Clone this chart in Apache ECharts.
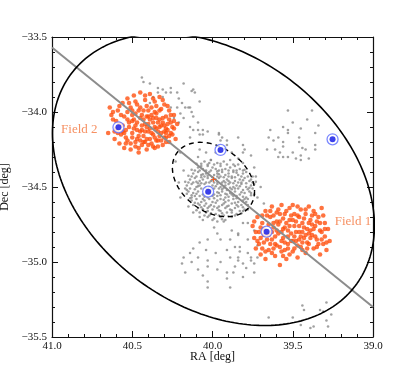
<!DOCTYPE html>
<html>
<head>
<meta charset="utf-8">
<script src="https://cdn.jsdelivr.net/npm/echarts@6/dist/echarts.min.js"></script>
<style>
  html, body { margin: 0; padding: 0; background: #fff; }
  #chart { width: 415px; height: 374px; }
</style>
</head>
<body>
<div id="chart"></div>
<script>
// axis ranges (degrees)
const raRange = [39.0, 41.0];
const decRange = [-35.5, -33.5];

// orange members, field 2
const field2 = [
  [40.64,-33.97],[40.65,-34.14],[40.62,-34.05],[40.61,-34.18],[40.60,-34.11],[40.59,-33.99],[40.58,-34.21],[40.58,-34.08],[40.57,-34.15],[40.56,-33.94],
  [40.55,-34.03],[40.55,-34.24],[40.54,-34.12],[40.53,-33.91],[40.53,-34.19],[40.52,-34.07],[40.51,-33.97],[40.51,-34.25],[40.50,-34.14],[40.50,-34.02],
  [40.49,-33.89],[40.48,-34.20],[40.48,-34.09],[40.47,-33.95],[40.46,-34.16],[40.46,-34.27],[40.45,-34.04],[40.45,-33.87],[40.44,-34.12],[40.44,-34.22],
  [40.43,-33.99],[40.42,-34.08],[40.42,-33.92],[40.41,-34.18],[40.41,-34.25],[40.40,-34.03],[40.40,-34.13],[40.39,-33.88],[40.38,-34.21],[40.38,-33.97],
  [40.37,-34.07],[40.37,-34.15],[40.36,-33.93],[40.36,-34.24],[40.35,-34.01],[40.35,-34.11],[40.34,-34.19],[40.33,-33.90],[40.33,-34.05],[40.32,-34.14],
  [40.32,-33.98],[40.31,-34.22],[40.30,-34.09],[40.30,-33.95],[40.29,-34.17],[40.29,-34.03],[40.28,-34.12],[40.27,-33.99],[40.27,-34.20],[40.26,-34.07],
  [40.25,-34.15],[40.24,-34.02],[40.24,-34.11],[40.23,-34.18],[40.22,-34.08],[40.52,-34.10],[40.49,-34.05],[40.47,-34.12],[40.46,-33.99],[40.43,-34.16],
  [40.43,-34.05],[40.40,-34.08],[40.39,-34.18],[40.38,-34.02],[40.36,-34.10],[40.34,-34.07],[40.33,-34.16],[40.31,-34.04],[40.30,-34.13],[40.28,-34.08],
  [40.57,-34.02],[40.54,-34.17],[40.51,-34.21],[40.48,-33.93],[40.45,-34.19],[40.42,-34.13],[40.41,-33.96],[40.39,-34.11],[40.37,-34.23],[40.35,-33.96],
  [40.34,-34.13],[40.32,-34.09],[40.31,-33.92],[40.29,-34.20],[40.27,-34.05],[40.26,-34.14],[40.50,-34.17],[40.47,-34.07],[40.44,-34.09],[40.41,-34.03],
  [40.53,-34.00],[40.56,-34.09],[40.59,-34.14],[40.46,-34.24],[40.40,-34.22],[40.35,-34.19],[40.30,-34.17],[40.48,-34.01],[40.42,-34.20],[40.37,-34.04],
  [40.63,-34.02],[40.60,-34.06],[40.58,-33.96],[40.56,-34.13],[40.54,-34.21],[40.52,-33.94],[40.50,-34.06],[40.49,-34.11],[40.47,-34.18],[40.45,-33.97],
  [40.44,-34.02],[40.43,-34.20],[40.42,-33.89],[40.41,-34.10],[40.39,-34.05],[40.38,-34.14],[40.37,-33.91],[40.36,-34.17],[40.35,-34.04],[40.33,-34.10],
  [40.33,-33.99],[40.32,-34.19],[40.31,-34.07],[40.29,-34.11],[40.28,-33.96],[40.27,-34.16],[40.25,-34.10],[40.24,-34.06],[40.26,-34.02],[40.48,-34.23],
  [40.53,-34.05],[40.55,-34.14],[40.61,-34.13],[40.62,-34.00],[40.45,-34.13],[40.40,-33.99],[40.36,-34.00],[40.34,-34.23],[40.29,-34.14],[40.50,-33.99]
];

// orange members, field 1
const field1 = [
  [39.75,-34.76],[39.74,-34.84],[39.73,-34.91],[39.72,-34.70],[39.71,-34.80],[39.70,-34.95],[39.69,-34.74],[39.68,-34.87],[39.67,-34.66],[39.67,-34.98],
  [39.66,-34.81],[39.65,-34.92],[39.64,-34.70],[39.63,-34.63],[39.63,-34.85],[39.62,-34.77],[39.61,-34.96],[39.60,-34.67],[39.60,-34.89],[39.59,-34.81],
  [39.58,-34.73],[39.58,-35.02],[39.57,-34.62],[39.57,-34.93],[39.56,-34.84],[39.55,-34.68],[39.55,-34.77],[39.54,-34.98],[39.53,-34.88],[39.52,-34.64],
  [39.52,-34.72],[39.51,-34.81],[39.50,-34.93],[39.50,-34.62],[39.49,-34.76],[39.48,-34.86],[39.47,-34.69],[39.47,-34.97],[39.46,-34.80],[39.45,-34.65],
  [39.45,-34.90],[39.44,-34.74],[39.43,-34.84],[39.42,-34.68],[39.42,-34.94],[39.41,-34.78],[39.40,-34.63],[39.40,-34.88],[39.39,-34.72],[39.38,-34.82],
  [39.37,-34.66],[39.37,-34.91],[39.36,-34.76],[39.35,-34.85],[39.34,-34.70],[39.33,-34.95],[39.33,-34.79],[39.32,-34.64],[39.31,-34.88],[39.30,-34.74],
  [39.30,-34.83],[39.29,-34.92],[39.28,-34.78],[39.27,-34.86],[39.70,-34.84],[39.68,-34.78],[39.65,-34.75],[39.64,-34.88],[39.62,-34.69],[39.61,-34.83],
  [39.59,-34.75],[39.58,-34.90],[39.56,-34.71],[39.55,-34.87],[39.53,-34.79],[39.51,-34.69],[39.49,-34.91],[39.48,-34.73],[39.46,-34.85],[39.44,-34.80],
  [39.43,-34.71],[39.41,-34.87],[39.39,-34.79],[39.38,-34.69],[39.36,-34.83],[39.35,-34.73],[39.32,-34.80],[39.31,-34.69],[39.73,-34.80],[39.69,-34.91],
  [39.66,-34.69],[39.63,-34.94],[39.60,-34.73],[39.57,-34.80],[39.54,-34.74],[39.52,-34.95],[39.49,-34.83],[39.47,-34.63],[39.44,-34.92],[39.40,-34.74],
  [39.66,-34.85],[39.62,-34.91],[39.56,-34.96],[39.50,-34.86],[39.42,-34.82],[39.34,-34.88],[39.71,-34.88],[39.59,-34.65],[39.53,-34.83],[39.46,-34.76],
  [39.74,-34.73],[39.72,-34.86],[39.70,-34.77],[39.69,-34.69],[39.67,-34.93],[39.65,-34.82],[39.64,-34.66],[39.62,-34.74],[39.61,-34.88],[39.60,-34.79],
  [39.58,-34.68],[39.57,-34.86],[39.56,-34.78],[39.54,-34.66],[39.53,-34.91],[39.52,-34.76],[39.51,-34.86],[39.49,-34.68],[39.48,-34.80],[39.47,-34.89],
  [39.46,-34.70],[39.45,-34.83],[39.43,-34.77],[39.42,-34.65],[39.41,-34.91],[39.39,-34.84],[39.38,-34.75],[39.36,-34.68],[39.35,-34.90],[39.33,-34.74],
  [39.32,-34.85],[39.30,-34.78],[39.29,-34.87],[39.63,-34.80],[39.55,-34.92],[39.50,-34.72],[39.44,-34.87],[39.40,-34.81],[39.37,-34.78],[39.68,-34.82]
];

// grey stars, central clump
const greyCore = [
  [40.05,-34.33],[40.01,-34.32],[39.97,-34.34],[39.93,-34.33],[39.89,-34.32],[39.99,-34.35],[39.91,-34.35],[40.03,-34.35],
  [40.09,-34.37],[40.06,-34.38],[40.03,-34.36],[40.00,-34.37],[39.98,-34.38],[39.95,-34.36],[39.92,-34.38],[39.89,-34.37],[39.86,-34.36],[39.83,-34.38],[40.07,-34.36],[39.96,-34.39],[39.87,-34.39],
  [40.12,-34.41],[40.09,-34.40],[40.07,-34.42],[40.04,-34.41],[40.02,-34.40],[39.99,-34.42],[39.97,-34.41],[39.94,-34.40],[39.92,-34.42],[39.90,-34.41],[39.87,-34.40],[39.84,-34.42],[39.81,-34.41],[39.79,-34.40],[40.05,-34.43],[39.95,-34.43],[39.88,-34.43],[40.10,-34.43],
  [40.14,-34.45],[40.11,-34.44],[40.08,-34.46],[40.06,-34.45],[40.03,-34.44],[40.01,-34.46],[39.98,-34.45],[39.96,-34.44],[39.93,-34.46],[39.91,-34.45],[39.88,-34.44],[39.86,-34.46],[39.83,-34.45],[39.80,-34.44],[39.77,-34.46],[40.12,-34.47],[40.04,-34.47],[39.99,-34.47],[39.94,-34.47],[39.89,-34.47],[39.84,-34.47],[39.76,-34.45],
  [40.16,-34.49],[40.13,-34.48],[40.10,-34.50],[40.08,-34.49],[40.05,-34.48],[40.02,-34.50],[40.00,-34.49],[39.97,-34.48],[39.95,-34.50],[39.92,-34.49],[39.90,-34.48],[39.87,-34.50],[39.85,-34.49],[39.82,-34.48],[39.79,-34.50],[39.76,-34.49],[39.74,-34.48],[40.07,-34.51],[40.01,-34.52],[39.96,-34.51],[39.91,-34.52],[39.86,-34.51],[39.81,-34.52],
  [40.15,-34.53],[40.12,-34.54],[40.09,-34.53],[40.06,-34.55],[40.04,-34.54],[40.01,-34.53],[39.99,-34.55],[39.96,-34.54],[39.94,-34.53],[39.91,-34.55],[39.89,-34.54],[39.86,-34.53],[39.83,-34.55],[39.80,-34.54],[39.77,-34.53],[39.74,-34.55],[40.11,-34.56],[40.03,-34.57],[39.97,-34.56],[39.92,-34.57],[39.87,-34.56],[39.79,-34.57],
  [40.13,-34.59],[40.10,-34.58],[40.07,-34.60],[40.05,-34.59],[40.02,-34.58],[40.00,-34.60],[39.97,-34.59],[39.95,-34.58],[39.92,-34.60],[39.90,-34.59],[39.87,-34.58],[39.84,-34.60],[39.81,-34.59],[39.78,-34.58],[40.08,-34.62],[40.01,-34.62],[39.94,-34.62],[39.88,-34.61],[39.82,-34.62],
  [40.09,-34.64],[40.06,-34.65],[40.03,-34.64],[40.00,-34.65],[39.97,-34.64],[39.95,-34.66],[39.92,-34.64],[39.89,-34.65],[39.86,-34.64],[39.83,-34.66],[39.80,-34.65],[40.04,-34.67],[39.98,-34.68],[39.91,-34.67],[39.85,-34.68],
  [40.03,-34.70],[39.99,-34.71],[39.95,-34.70],[39.92,-34.72],[39.88,-34.70],[40.06,-34.72],[39.97,-34.73],
  [40.07,-34.345],[39.95,-34.345],[39.87,-34.35],[40.02,-34.34],
  [40.11,-34.39],[40.08,-34.39],[40.04,-34.39],[40.01,-34.39],[39.94,-34.385],[39.90,-34.39],[39.85,-34.39],[39.81,-34.39],
  [40.13,-34.43],[40.07,-34.435],[40.03,-34.425],[40.00,-34.435],[39.97,-34.43],[39.93,-34.435],[39.90,-34.43],[39.86,-34.435],[39.82,-34.43],[39.78,-34.43],
  [40.15,-34.47],[40.10,-34.465],[40.07,-34.475],[40.02,-34.47],[39.97,-34.465],[39.92,-34.47],[39.87,-34.475],[39.82,-34.47],[39.79,-34.475],[39.75,-34.47],
  [40.14,-34.51],[40.11,-34.515],[40.04,-34.505],[39.99,-34.51],[39.94,-34.515],[39.89,-34.505],[39.84,-34.51],[39.78,-34.515],[39.75,-34.51],
  [40.13,-34.555],[40.08,-34.56],[40.05,-34.565],[40.00,-34.56],[39.95,-34.555],[39.90,-34.565],[39.85,-34.56],[39.81,-34.565],[39.76,-34.555],
  [40.11,-34.605],[40.04,-34.61],[39.98,-34.605],[39.93,-34.61],[39.86,-34.605],[39.79,-34.60],
  [40.07,-34.635],[40.02,-34.63],[39.96,-34.63],[39.90,-34.625],[39.84,-34.63],[39.81,-34.635],
  [40.08,-34.67],[40.01,-34.675],[39.94,-34.675],[39.88,-34.67],[39.82,-34.675],
  [40.05,-34.69],[39.96,-34.69],[39.90,-34.695],
  [40.10,-34.345],[39.84,-34.35],[40.13,-34.385],[39.97,-34.395],[39.80,-34.385],[40.15,-34.425],[40.06,-34.415],[39.96,-34.415],[39.85,-34.405],[39.75,-34.43],
  [40.17,-34.465],[40.09,-34.475],[40.00,-34.455],[39.90,-34.46],[39.81,-34.455],[39.73,-34.465],[40.17,-34.51],[40.09,-34.495],[40.03,-34.515],[39.98,-34.495],
  [39.93,-34.505],[39.88,-34.515],[39.83,-34.495],[39.77,-34.505],[40.16,-34.545],[40.10,-34.545],[40.02,-34.545],[39.97,-34.535],[39.92,-34.545],[39.88,-34.55],
  [39.82,-34.535],[39.76,-34.54],[40.14,-34.575],[40.06,-34.58],[39.99,-34.575],[39.93,-34.585],[39.85,-34.575],[39.80,-34.58],[40.12,-34.62],[40.05,-34.625],
  [39.99,-34.63],[39.91,-34.63],[39.85,-34.62],[39.78,-34.62],[40.10,-34.655],[40.03,-34.66],[39.96,-34.655],[39.88,-34.655],[39.81,-34.66],[40.02,-34.69],
  [39.93,-34.69],[39.86,-34.69],[40.00,-34.72],[39.94,-34.715],[40.08,-34.70]
];

// grey stars, scattered outside the clump
const greyField = [
  [40.44,-33.77],[40.43,-33.80],[40.39,-33.81],[40.34,-33.84],[40.31,-33.85],[40.29,-33.87],[40.26,-33.84],[40.22,-33.87],[40.18,-33.81],[40.21,-33.91],
  [40.19,-33.94],[40.17,-33.97],[40.15,-33.97],[40.13,-34.00],[40.12,-34.03],[40.22,-33.97],[40.20,-34.01],[40.26,-33.97],[40.24,-34.04],[40.21,-34.07],
  [40.18,-34.04],[40.12,-33.85],[40.11,-33.87],[40.14,-34.10],[40.09,-34.12],[40.06,-34.12],[40.03,-34.13],[40.08,-34.15],[39.96,-34.15],[39.94,-34.17],
  [40.34,-33.87],[40.31,-33.90],[40.26,-33.87],[40.13,-33.86],[40.08,-33.93],[40.14,-33.97],[40.37,-33.90],[40.39,-33.94],[39.53,-33.99],[39.38,-33.99],
  [40.12,-34.12],[40.14,-34.17],[40.06,-34.15],[39.98,-34.27],[40.04,-34.27],[40.09,-34.30],[40.01,-34.32],[39.88,-34.27],[39.84,-34.31],[39.81,-34.34],
  [39.81,-34.27],[40.08,-34.25],[39.95,-34.19],[39.91,-34.22],[40.09,-34.07],[39.96,-34.14],[39.91,-34.19],[39.84,-34.17],[39.81,-34.22],[39.76,-34.29],
  [39.74,-34.37],[40.20,-34.27],[40.23,-34.33],
  [40.18,-34.39],[40.21,-34.47],[40.16,-34.52],[40.13,-34.57],[40.20,-34.57],[40.15,-34.63],[40.09,-34.61],[40.06,-34.65],[40.12,-34.67],
  [39.73,-34.43],[39.70,-34.50],[39.72,-34.57],[39.68,-34.61],
  [39.99,-34.77],[39.93,-34.73],[39.97,-34.81],[39.88,-34.79],[40.03,-34.85],[39.95,-34.85],[39.89,-34.85],[39.84,-34.82],[40.08,-34.87],[40.04,-34.92],
  [39.98,-34.94],[39.91,-34.92],[39.86,-34.90],[39.83,-34.93],[40.12,-34.91],[40.14,-34.94],[40.18,-34.97],[40.19,-35.01],[40.09,-34.97],[40.03,-34.99],
  [39.95,-35.00],[39.89,-34.97],[39.84,-34.97],[39.78,-34.94],[40.17,-35.07],[40.09,-35.05],[40.03,-35.03],[39.97,-35.05],[39.91,-35.07],[39.86,-35.03],
  [39.81,-35.01],[39.76,-34.99],[39.74,-35.01],[40.03,-35.13],[39.91,-35.11],[39.89,-35.17],[40.03,-35.17],[40.06,-35.09],[40.13,-35.00],[39.72,-34.97],
  [39.78,-34.74],[39.74,-34.79],[39.72,-34.89],
  [39.78,-34.65],[39.81,-34.74],[39.84,-34.81],[39.78,-34.85],[39.83,-34.90],[39.76,-34.97],[39.84,-34.99],[39.79,-35.04],[39.74,-35.07],[39.81,-35.10],[39.87,-35.07],
  [39.64,-34.12],[39.56,-34.10],[39.50,-34.07],[39.45,-34.11],[39.41,-34.05],[39.34,-34.09],[39.65,-34.17],[39.62,-34.19],[39.59,-34.17],[39.56,-34.20],
  [39.53,-34.14],[39.53,-34.12],[39.46,-34.17],[39.46,-34.20],[39.36,-34.14],[39.66,-34.25],[39.61,-34.25],[39.58,-34.27],[39.56,-34.23],[39.59,-34.30],
  [39.56,-34.30],[39.53,-34.30],[39.50,-34.27],[39.48,-34.31],[39.45,-34.32],[39.44,-34.24],[39.42,-34.25],[39.40,-34.31],[39.36,-34.25],[39.36,-34.22],
  [39.80,-34.25],[39.45,-34.29],
  [39.44,-35.29],[39.43,-35.32],[39.50,-35.37],[39.45,-35.42],[39.37,-35.43],[39.39,-35.44],[39.33,-35.32],[39.29,-35.27],[39.31,-35.33],[39.26,-35.35],
  [39.29,-35.39],[39.28,-35.43],[39.65,-35.37]
];

// blue highlighted stars
const blueStars = [
  [40.586,-34.102],[39.95,-34.253],[40.027,-34.531],[39.663,-34.798],[39.252,-34.182]
];

// cluster centre and ellipses (centre + two conjugate semi-axes, degrees)
const centre = [39.994, -34.45];
const outerAxes = [[-1.003, -0.309], [0, -0.923]];
const innerAxes = [[-0.256, -0.079], [0, -0.235]];

// major-axis line end points
const axisLine = [[41.0, -33.57], [39.0, -35.30]];

// field labels
const fieldLabels = [
  { name: 'Field 2', value: [40.83, -34.12] },
  { name: 'Field 1', value: [39.125, -34.733] }
];

function ellipsePoints(c, axes) {
  const pts = [];
  for (let i = 0; i <= 240; i++) {
    const t = (i / 240) * Math.PI * 2;
    pts.push([
      c[0] + Math.cos(t) * axes[0][0] + Math.sin(t) * axes[1][0],
      c[1] + Math.cos(t) * axes[0][1] + Math.sin(t) * axes[1][1]
    ]);
  }
  return pts;
}

const serif = 'Liberation Serif';
const orange = '#ff500f';

const axisCommon = {
  axisLine: { lineStyle: { color: '#111', width: 1.2 } },
  axisTick: { inside: true, length: 6, lineStyle: { color: '#111', width: 1 } },
  minorTick: { show: true, splitNumber: 5, length: 3, lineStyle: { color: '#111', width: 1 } },
  splitLine: { show: false },
  minorSplitLine: { show: false }
};

const option = {
  animation: false,
  backgroundColor: '#fff',
  grid: { left: 52, right: 42, top: 37, bottom: 37, containLabel: false, outerBoundsMode: 'none' },
  xAxis: [
    Object.assign({
      type: 'value', min: raRange[0], max: raRange[1], interval: 0.5, inverse: true,
      position: 'bottom',
      name: 'RA [deg]', nameLocation: 'middle', nameGap: 14, nameMoveOverlap: false,
      nameTextStyle: { fontFamily: serif, fontSize: 12, color: '#111' },
      axisLabel: { margin: 4, fontFamily: serif, fontSize: 11, color: '#111', formatter: v => v.toFixed(1) }
    }, axisCommon),
    Object.assign({
      type: 'value', min: raRange[0], max: raRange[1], interval: 0.5, inverse: true,
      position: 'top', axisLabel: { show: false }
    }, axisCommon)
  ],
  yAxis: [
    Object.assign({
      type: 'value', min: decRange[0], max: decRange[1], interval: 0.5,
      position: 'left',
      name: 'Dec [deg]', nameLocation: 'middle', nameGap: 29, nameRotate: 90,
      nameTextStyle: { fontFamily: serif, fontSize: 12, color: '#111' },
      axisLabel: { margin: 5, fontFamily: serif, fontSize: 11, color: '#111',
        formatter: v => v.toFixed(1).replace('-', '\u2212') }
    }, axisCommon),
    Object.assign({
      type: 'value', min: decRange[0], max: decRange[1], interval: 0.5,
      position: 'right', axisLabel: { show: false }
    }, axisCommon)
  ],
  series: [
    {
      type: 'scatter', data: greyCore.concat(greyField), symbolSize: 2.6,
      itemStyle: { color: '#8a8a8a' }, z: 2
    },
    {
      type: 'scatter', data: field2, symbolSize: 4.6,
      itemStyle: { color: orange }, z: 3
    },
    {
      type: 'scatter', data: field1, symbolSize: 4.6,
      itemStyle: { color: orange }, z: 3
    },
    {
      type: 'line', data: axisLine, symbol: 'none',
      lineStyle: { color: '#8c8c8c', width: 2 }, z: 4
    },
    {
      type: 'line', data: ellipsePoints(centre, outerAxes), symbol: 'none',
      lineStyle: { color: '#000', width: 1.6 }, z: 5
    },
    {
      type: 'line', data: ellipsePoints(centre, innerAxes), symbol: 'none',
      lineStyle: { color: '#000', width: 1.4, type: [5, 4] }, z: 5
    },
    {
      type: 'scatter', data: [centre], symbol: 'path://M0,5L10,5M5,0L5,10', symbolSize: 5,
      itemStyle: { color: 'none', borderColor: orange, borderWidth: 1 }, z: 6
    },
    {
      type: 'scatter', data: blueStars, symbol: 'circle', symbolSize: 11,
      itemStyle: { color: '#fff', borderColor: '#5b6bff', borderWidth: 1.3 }, z: 7
    },
    {
      type: 'scatter', data: blueStars, symbol: 'circle', symbolSize: 6,
      itemStyle: { color: '#0b12e6' }, z: 8
    },
    {
      type: 'scatter', data: fieldLabels, symbolSize: 0,
      label: { show: true, position: 'inside', formatter: '{b}', fontFamily: serif, fontSize: 13, color: '#f4743b' },
      z: 9
    }
  ]
};

const chart = echarts.init(document.getElementById('chart'));
chart.setOption(option);
</script>
</body>
</html>
